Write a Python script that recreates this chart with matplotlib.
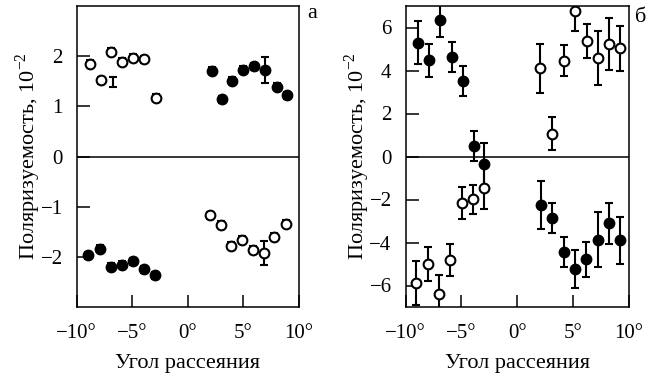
import numpy as np
import matplotlib
matplotlib.use("Agg")
import matplotlib.pyplot as plt

plt.rcParams['font.family'] = ['Liberation Serif', 'DejaVu Serif']
plt.rcParams['mathtext.fontset'] = 'stix'
plt.rcParams['font.size'] = 16

# panel a: small error bars
a_open_top_x = [-8.85, -7.85, -6.9, -5.9, -4.9, -3.9, -2.9]
a_open_top_y = [1.85, 1.52, 2.09, 1.89, 1.97, 1.94, 1.17]
a_bar_only_x = [-6.75]
a_bar_only_y = [1.49]
a_bar_only_err = [0.1]
a_fill_top_x = [2.15, 3.1, 3.95, 5.0, 6.0, 7.0, 8.0, 8.95]
a_fill_top_y = [1.71, 1.14, 1.51, 1.73, 1.80, 1.72, 1.39, 1.22]
a_fill_top_err = [0.07, 0.07, 0.07, 0.07, 0.07, 0.26, 0.07, 0.07]
a_fill_bot_x = [-8.95, -7.93, -6.9, -5.95, -4.92, -3.96, -2.94]
a_fill_bot_y = [-1.97, -1.84, -2.2, -2.16, -2.09, -2.25, -2.37]
a_open_bot_x = [2.02, 2.97, 3.91, 4.93, 5.92, 6.85, 7.81, 8.86]
a_open_bot_y = [-1.17, -1.36, -1.78, -1.66, -1.86, -1.93, -1.60, -1.34]
a_open_bot_err = [0.07, 0.07, 0.07, 0.07, 0.07, 0.24, 0.07, 0.07]

# panel б
b_fill_top_x = [-8.86, -7.87, -6.88, -5.86, -4.87, -3.87, -2.97]
b_fill_top_y = [5.29, 4.47, 6.33, 4.63, 3.53, 0.48, -0.37]
b_fill_top_err = [1.0, 0.78, 0.77, 0.7, 0.7, 0.7, 0.98]
b_open_top_x = [2.05, 3.12, 4.2, 5.2, 6.2, 7.2, 8.2, 9.2]
b_open_top_y = [4.10, 1.06, 4.45, 6.76, 5.36, 4.58, 5.22, 5.03]
b_open_top_err = [1.15, 0.76, 0.72, 0.9, 0.8, 1.27, 1.2, 1.05]
b_open_bot_x = [-9.04, -7.99, -6.96, -6.0, -4.95, -3.98, -2.95]
b_open_bot_y = [-5.87, -5.01, -6.4, -4.8, -2.17, -1.99, -1.46]
b_open_bot_err = [1.03, 0.8, 0.88, 0.75, 0.74, 0.68, 1.0]
b_fill_bot_x = [2.1, 3.15, 4.2, 5.2, 6.18, 7.2, 8.2, 9.19]
b_fill_bot_y = [-2.25, -2.88, -4.43, -5.23, -4.79, -3.87, -3.11, -3.9]
b_fill_bot_err = [1.13, 0.7, 0.7, 0.9, 0.82, 1.27, 0.96, 1.1]

xticks = [-10, -5, 0, 5, 10]
xticklabels = ['\u221210\u00b0', '\u22125\u00b0', '0\u00b0', '5\u00b0', '10\u00b0']
ylabel = 'Поляризуемость, 10$^{\\mathregular{-2}}$'
xlabel = 'Угол рассеяния'

W, H = 653, 379
fig = plt.figure(figsize=(W / 100, H / 100), dpi=100)


def px_axes(x0, y0, x1, y1):
    return fig.add_axes([x0 / W, 1 - y1 / H, (x1 - x0) / W, (y1 - y0) / H])


ax1 = px_axes(76.8, 6, 298.7, 307)
ax2 = px_axes(405.5, 6, 629, 307)

eb = dict(ecolor='black', elinewidth=1.5, capsize=3, capthick=1.5,
          linestyle='none', markersize=7, markeredgewidth=1.5,
          markeredgecolor='black')


def draw(ax, x, y, err, filled):
    ax.errorbar(x, y, yerr=err, fmt='o',
                markerfacecolor='black' if filled else 'white', **eb)


draw(ax1, a_open_top_x, a_open_top_y, 0.07, False)
ax1.errorbar(a_bar_only_x, a_bar_only_y, yerr=a_bar_only_err, fmt='none', **eb)
draw(ax1, a_fill_top_x, a_fill_top_y, a_fill_top_err, True)
draw(ax1, a_fill_bot_x, a_fill_bot_y, 0.07, True)
draw(ax1, a_open_bot_x, a_open_bot_y, a_open_bot_err, False)

draw(ax2, b_fill_top_x, b_fill_top_y, b_fill_top_err, True)
draw(ax2, b_open_top_x, b_open_top_y, b_open_top_err, False)
draw(ax2, b_open_bot_x, b_open_bot_y, b_open_bot_err, False)
draw(ax2, b_fill_bot_x, b_fill_bot_y, b_fill_bot_err, True)

ax1.set_ylim(-3, 3)
ax1.set_yticks([-2, -1, 0, 1, 2])
ax2.set_ylim(-7, 7)
ax2.set_yticks([-6, -4, -2, 0, 2, 4, 6])

for ax in (ax1, ax2):
    ax.axhline(0, color='black', lw=1.1, zorder=1)
    ax.set_xlim(-10, 10)
    ax.set_xticks(xticks)
    ax.set_xticklabels(xticklabels)
    ax.tick_params(direction='in', length=9, width=1.1, top=False, right=False,
                   labelsize=15)
    ax.tick_params(axis='x', pad=12)
    ax.tick_params(axis='y', pad=10)
    for s in ax.spines.values():
        s.set_linewidth(1.1)
    ax.set_xlabel(xlabel, labelpad=8)
    ax.set_ylabel(ylabel, va='center')

ax1.yaxis.set_label_coords(-0.22, 0.5)
ax2.yaxis.set_label_coords(-0.217, 0.5)

fig.text(307 / W, 1 - 14 / H, 'а', ha='left', va='center')
fig.text(635 / W, 1 - 17 / H, 'б', ha='left', va='center')

fig.savefig('out.png', dpi=100)
